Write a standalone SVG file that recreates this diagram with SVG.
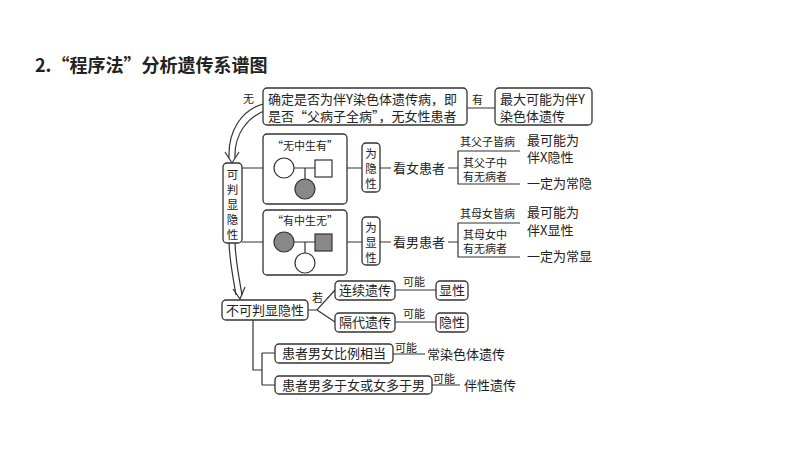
<svg xmlns="http://www.w3.org/2000/svg" width="800" height="450" viewBox="0 0 800 450">
<style>
text{font-family:"Noto Sans CJK SC","Liberation Serif",serif;fill:#222}
.t{font-size:13px}.s{font-size:11px}.v{font-size:11.5px}
.b{fill:#fff;stroke:#333;stroke-width:1.3}
.l{fill:none;stroke:#333;stroke-width:1.2}
.g{fill:#888;stroke:#333;stroke-width:1.2}
.w{fill:#fff;stroke:#333;stroke-width:1.2}
</style>
<rect width="800" height="450" fill="#fff"/>
<text x="35" y="72" style="font-size:18px;font-weight:bold">2.“程序法”分析遗传系谱图</text>
<g id="connectors">
<path class="l" d="M263,104 C242,110 228,130 229,158 M267,110 C248,116 234,134 235,158"/>
<path class="l" d="M225,152 L232,163 L239,152"/>
<path class="l" d="M229,243 C230,265 234,282 236,295 M235,243 C236,265 240,282 242,295"/>
<path class="l" d="M233,289 L240,299 L245,287"/>
<path class="l" d="M467,108 H495 M242,168 H263 M242,242 H263 M347,168 H362 M380,168 H391 M448,168 H458 M347,242 H362 M380,242 H391 M448,242 H458"/>
<path class="l" d="M520,151 H458 V184 H520 M520,223 H458 V257 H520"/>
<path class="l" d="M308,310 L317,310 L335,290 M317,310 L335,322 M395,290 H436 M395,322 H436"/>
<path class="l" d="M253,320 V370 H262 M262,353 V385 M262,353 H275 M262,385 H275 M393,354 H425 M432,385 H460"/>
</g>
<text class="s" x="243" y="103">无</text>
<text class="s" x="472" y="104">有</text>
<g id="top"><rect class="b" x="263" y="88" width="204" height="37" rx="4"/>
<text class="t" x="268" y="104">确定是否为伴Y染色体遗传病，即</text>
<text class="t" x="268" y="121">是否“父病子全病”，无女性患者</text></g>
<g id="ylinked"><rect class="b" x="495" y="88" width="97" height="37" rx="4"/>
<text class="t" x="500" y="104">最大可能为伴Y</text><text class="t" x="500" y="121">染色体遗传</text></g>
<g id="kepan"><rect class="b" x="223" y="163" width="19" height="80" rx="4"/>
<text class="v" x="232.5" y="179" text-anchor="middle">可</text><text class="v" x="232.5" y="194" text-anchor="middle">判</text><text class="v" x="232.5" y="209" text-anchor="middle">显</text><text class="v" x="232.5" y="224" text-anchor="middle">隐</text><text class="v" x="232.5" y="239" text-anchor="middle">性</text></g>
<g id="ped1"><rect class="b" x="263" y="134" width="84" height="70" rx="4"/>
<text class="s" x="305" y="150" text-anchor="middle">“无中生有”</text>
<path class="l" d="M294,168 H315 M305,168 V179"/>
<circle class="w" cx="284" cy="168" r="10"/><rect class="w" x="315" y="160" width="17" height="17"/><circle class="g" cx="305" cy="189" r="10"/></g>
<g id="ped2"><rect class="b" x="263" y="210" width="84" height="65" rx="4"/>
<text class="s" x="305" y="225" text-anchor="middle">“有中生无”</text>
<path class="l" d="M294,242 H315 M305,242 V253"/>
<circle class="g" cx="284" cy="242" r="10"/><rect class="g" x="315" y="234" width="17" height="17"/><circle class="w" cx="305" cy="263" r="10"/></g>
<g id="yin"><rect class="b" x="362" y="143" width="18" height="49" rx="4"/>
<text class="v" x="371" y="158" text-anchor="middle">为</text><text class="v" x="371" y="173" text-anchor="middle">隐</text><text class="v" x="371" y="188" text-anchor="middle">性</text></g>
<g id="xian"><rect class="b" x="362" y="217" width="18" height="48" rx="4"/>
<text class="v" x="371" y="232" text-anchor="middle">为</text><text class="v" x="371" y="247" text-anchor="middle">显</text><text class="v" x="371" y="262" text-anchor="middle">性</text></g>
<text class="t" x="393" y="173">看女患者</text>
<text class="t" x="393" y="247">看男患者</text>
<text class="s" x="460" y="146">其父子皆病</text>
<text class="s" x="463" y="167">其父子中</text><text class="s" x="463" y="181">有无病者</text>
<text class="t" x="527" y="145">最可能为</text><text class="t" x="527" y="162">伴X隐性</text><text class="t" x="527" y="188">一定为常隐</text>
<text class="s" x="460" y="218">其母女皆病</text>
<text class="s" x="463" y="239">其母女中</text><text class="s" x="463" y="253">有无病者</text>
<text class="t" x="527" y="217">最可能为</text><text class="t" x="527" y="235">伴X显性</text><text class="t" x="527" y="261">一定为常显</text>
<g id="bukepan"><rect class="b" x="222" y="300" width="86" height="20" rx="4"/><text class="t" x="265" y="315" text-anchor="middle">不可判显隐性</text></g>
<text class="s" x="312" y="302">若</text>
<g id="lianxu"><rect class="b" x="335" y="281" width="60" height="19" rx="4"/><text class="t" x="365" y="295" text-anchor="middle">连续遗传</text></g>
<g id="gedai"><rect class="b" x="335" y="313" width="60" height="19" rx="4"/><text class="t" x="365" y="327" text-anchor="middle">隔代遗传</text></g>
<text class="s" x="403" y="286">可能</text><text class="s" x="403" y="318">可能</text>
<g id="xianxing"><rect class="b" x="436" y="281" width="32" height="19" rx="4"/><text class="t" x="452" y="295" text-anchor="middle">显性</text></g>
<g id="yinxing"><rect class="b" x="436" y="313" width="32" height="19" rx="4"/><text class="t" x="452" y="327" text-anchor="middle">隐性</text></g>
<g id="xiangdang"><rect class="b" x="275" y="344" width="118" height="19" rx="4"/><text class="t" x="334" y="358" text-anchor="middle">患者男女比例相当</text></g>
<g id="duoyu"><rect class="b" x="275" y="376" width="157" height="18" rx="4"/><text class="t" x="353.5" y="390" text-anchor="middle">患者男多于女或女多于男</text></g>
<text class="s" x="395" y="352">可能</text><text class="t" x="427" y="359">常染色体遗传</text>
<text class="s" x="433" y="383">可能</text><text class="t" x="464" y="390">伴性遗传</text>
</svg>
